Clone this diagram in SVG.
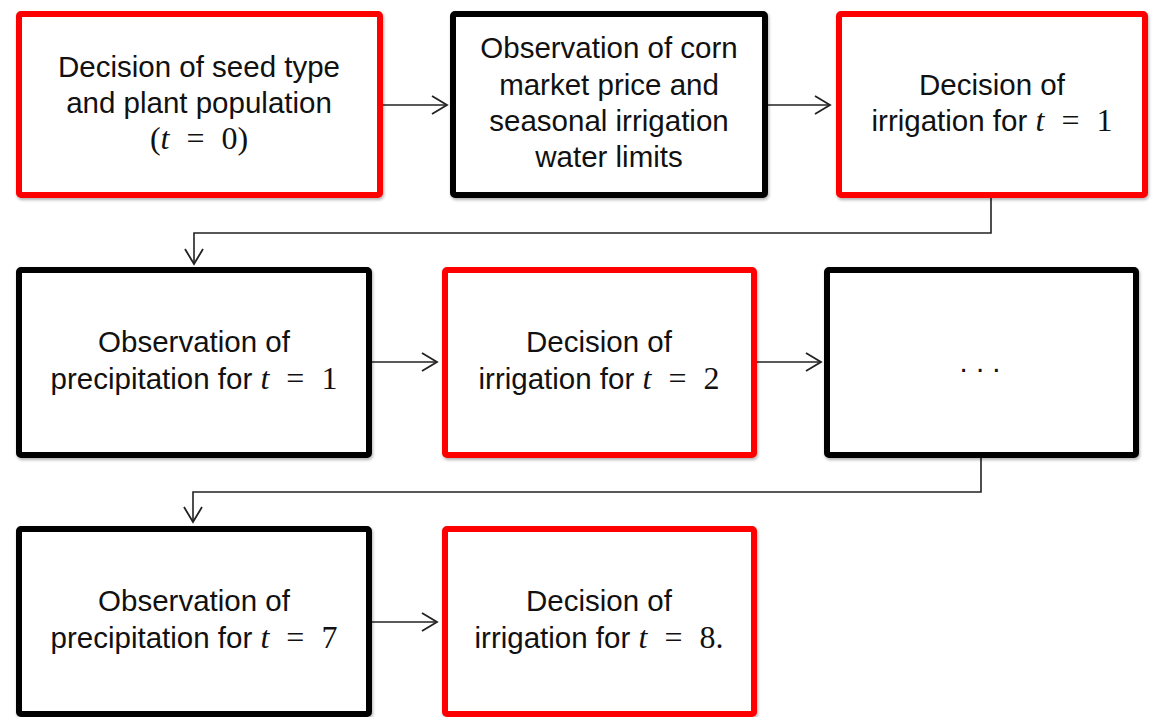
<svg xmlns="http://www.w3.org/2000/svg" width="1155" height="717" viewBox="0 0 1155 717">
<style>
.box{fill:#fff;stroke-width:6;filter:url(#sh)}
.red{stroke:#ff0000}
.blk{stroke:#000}
.t{font-family:"Liberation Sans",Arial,sans-serif;font-size:29.5px;fill:#111;text-anchor:middle}
.m{font-family:"Liberation Serif","Times New Roman",serif;font-size:32px}
.i{font-style:italic}
.c{fill:none;stroke:#222;stroke-width:1.6}
</style>
<defs>
<filter id="sh" x="-5%" y="-5%" width="110%" height="110%">
<feDropShadow dx="1" dy="2" stdDeviation="1.5" flood-color="#000" flood-opacity="0.3"/>
</filter>
<marker id="ah" markerUnits="userSpaceOnUse" markerWidth="20" markerHeight="20" viewBox="-17 -10 19 20" refX="0" refY="0" orient="auto">
<path d="M-15,-9 L0,0 L-15,9" fill="none" stroke="#222" stroke-width="1.8"/>
</marker>
</defs>
<g id="connectors">
<path class="c" d="M383,105 H447" marker-end="url(#ah)"/>
<path class="c" d="M768,105 H830" marker-end="url(#ah)"/>
<path class="c" d="M991,198 V233 H194 V264" marker-end="url(#ah)"/>
<path class="c" d="M372,362 H437" marker-end="url(#ah)"/>
<path class="c" d="M757,362 H821" marker-end="url(#ah)"/>
<path class="c" d="M981,458 V492 H193 V522" marker-end="url(#ah)"/>
<path class="c" d="M372,622 H437" marker-end="url(#ah)"/>
</g>
<g id="n1">
<rect class="box red" x="19" y="14" width="361" height="181" rx="2"/>
<text class="t" x="199" y="77">Decision of seed type</text>
<text class="t" x="199" y="113">and plant population</text>
<text class="t" x="199" y="149"><tspan class="m">(</tspan><tspan class="m i">t</tspan><tspan class="m" dx="17">=</tspan><tspan class="m" dx="17">0)</tspan></text>
</g>
<g id="n2">
<rect class="box blk" x="453" y="14" width="312" height="181" rx="2"/>
<text class="t" x="609" y="58">Observation of corn</text>
<text class="t" x="609" y="95">market price and</text>
<text class="t" x="609" y="131">seasonal irrigation</text>
<text class="t" x="609" y="167">water limits</text>
</g>
<g id="n3">
<rect class="box red" x="839" y="14" width="306" height="181" rx="2"/>
<text class="t" x="992" y="95">Decision of</text>
<text class="t" x="992" y="131">irrigation for <tspan class="m i">t</tspan><tspan class="m" dx="17">=</tspan><tspan class="m" dx="17">1</tspan></text>
</g>
<g id="n4">
<rect class="box blk" x="19" y="270" width="350" height="185" rx="2"/>
<text class="t" x="194" y="352">Observation of</text>
<text class="t" x="194" y="389">precipitation for <tspan class="m i">t</tspan><tspan class="m" dx="17">=</tspan><tspan class="m" dx="17">1</tspan></text>
</g>
<g id="n5">
<rect class="box red" x="445" y="270" width="309" height="185" rx="2"/>
<text class="t" x="599" y="352">Decision of</text>
<text class="t" x="599" y="389">irrigation for <tspan class="m i">t</tspan><tspan class="m" dx="17">=</tspan><tspan class="m" dx="17">2</tspan></text>
</g>
<g id="n6">
<rect class="box blk" x="827" y="270" width="309" height="185" rx="2"/>
<text class="t" x="980" y="372">. . .</text>
</g>
<g id="n7">
<rect class="box blk" x="19" y="529" width="350" height="185" rx="2"/>
<text class="t" x="194" y="611">Observation of</text>
<text class="t" x="194" y="648">precipitation for <tspan class="m i">t</tspan><tspan class="m" dx="17">=</tspan><tspan class="m" dx="17">7</tspan></text>
</g>
<g id="n8">
<rect class="box red" x="445" y="529" width="309" height="185" rx="2"/>
<text class="t" x="599" y="611">Decision of</text>
<text class="t" x="599" y="648">irrigation for <tspan class="m i">t</tspan><tspan class="m" dx="17">=</tspan><tspan class="m" dx="17">8.</tspan></text>
</g>
</svg>
